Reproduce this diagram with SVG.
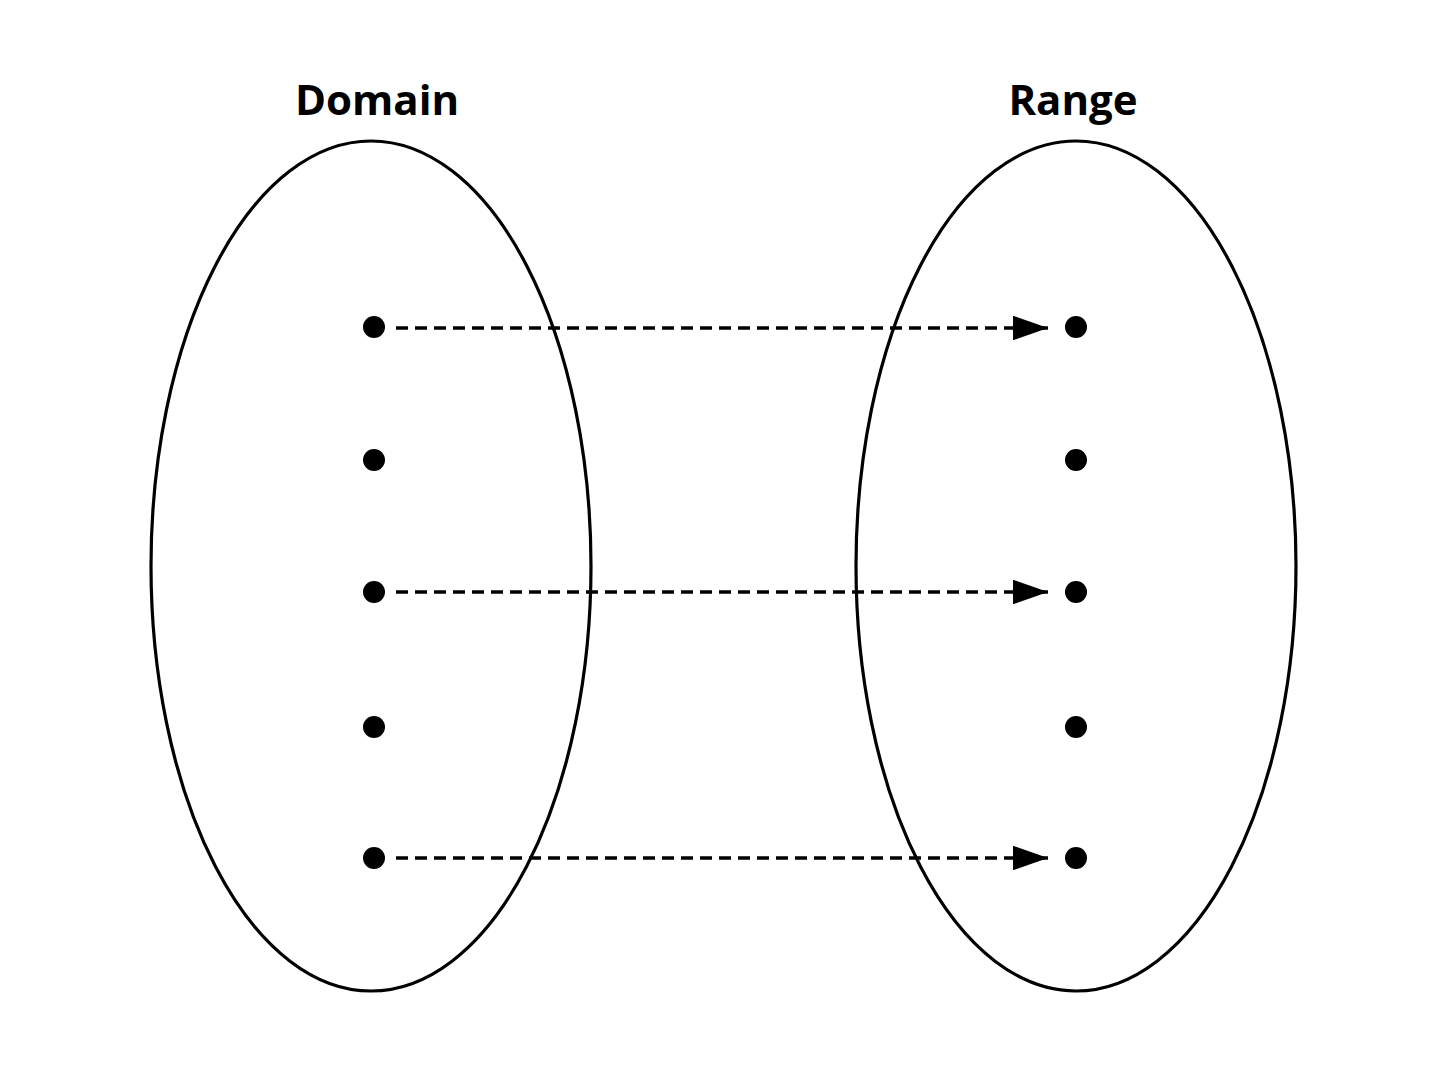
<svg xmlns="http://www.w3.org/2000/svg" width="1448" height="1086" viewBox="0 0 1448 1086">
<style>
.set{fill:none;stroke:#000;stroke-width:3.2}
.lbl{font-family:"Open Sans","Noto Sans",sans-serif;font-weight:700;font-size:42px;text-anchor:middle;fill:#000}
.dot{fill:#000}
.arr{stroke:#000;stroke-width:3.5;stroke-dasharray:12 7;fill:none;marker-end:url(#ah)}
</style>
<defs>
<marker id="ah" markerWidth="10" markerHeight="7" refX="10" refY="3.5" orient="auto" markerUnits="strokeWidth">
<path d="M0,0 L10,3.5 L0,7 Z" fill="#000"/>
</marker>
</defs>
<rect width="1448" height="1086" fill="#fff"/>
<g id="domain">
<ellipse class="set" cx="371" cy="566" rx="220" ry="425"/>
<text class="lbl" x="377" y="115">Domain</text>
<circle class="dot" cx="374" cy="327" r="11"/>
<circle class="dot" cx="374" cy="460" r="11"/>
<circle class="dot" cx="374" cy="592" r="11"/>
<circle class="dot" cx="374" cy="727" r="11"/>
<circle class="dot" cx="374" cy="858" r="11"/>
</g>
<g id="range">
<ellipse class="set" cx="1076" cy="566" rx="220" ry="425"/>
<text class="lbl" x="1073" y="115">Range</text>
<circle class="dot" cx="1076" cy="327" r="11"/>
<circle class="dot" cx="1076" cy="460" r="11"/>
<circle class="dot" cx="1076" cy="592" r="11"/>
<circle class="dot" cx="1076" cy="727" r="11"/>
<circle class="dot" cx="1076" cy="858" r="11"/>
</g>
<g id="connectors">
<line class="arr" x1="396" y1="328" x2="1048" y2="328"/>
<line class="arr" x1="396" y1="592" x2="1048" y2="592"/>
<line class="arr" x1="396" y1="858" x2="1048" y2="858"/>
</g>
</svg>
